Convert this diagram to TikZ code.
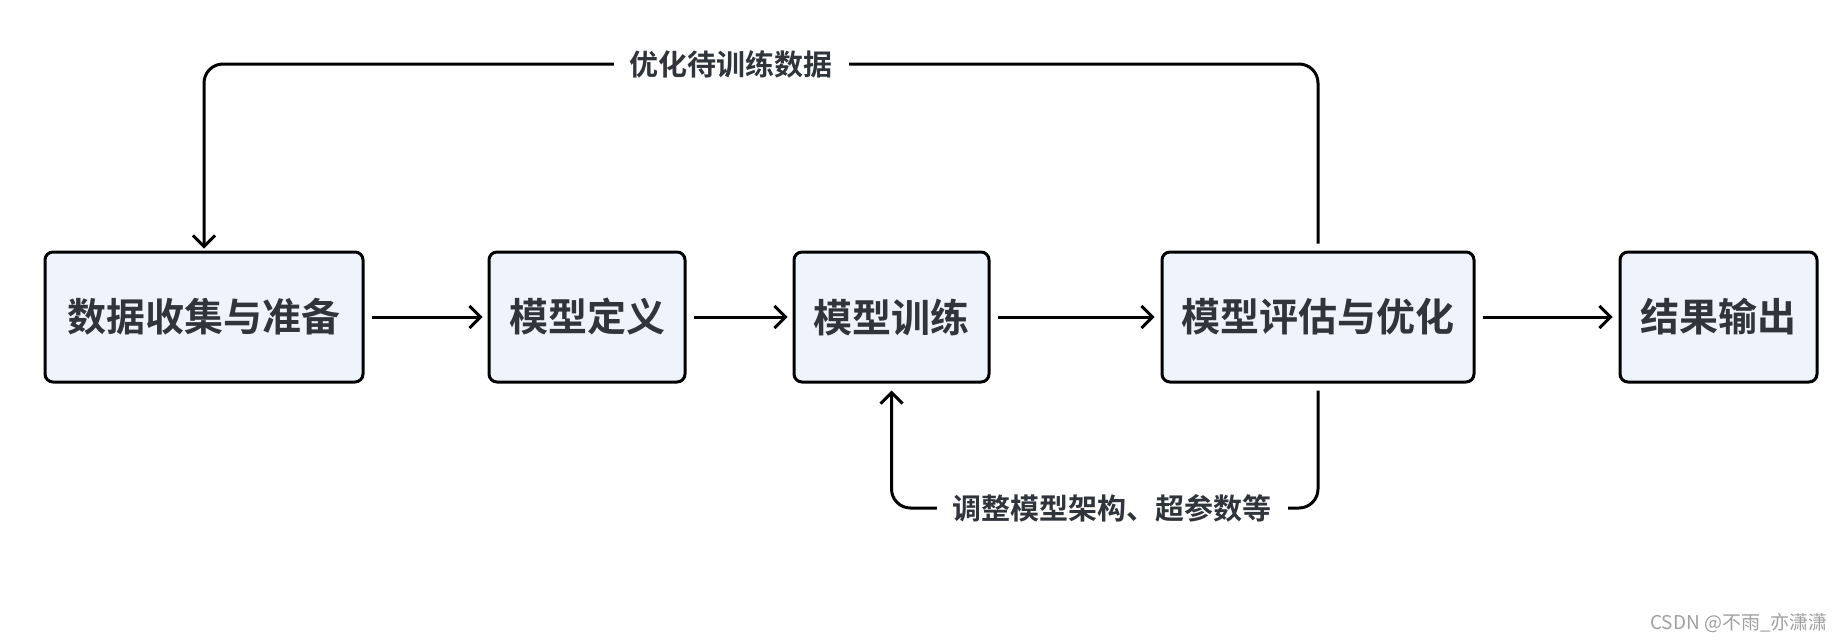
\documentclass[tikz,border=0pt]{standalone}
\usepackage{fontspec}
\setmainfont{Noto Sans CJK SC}[BoldFont={Noto Sans CJK SC Bold}]
\usetikzlibrary{arrows.meta}
\definecolor{boxfill}{HTML}{EEF3FC}
\definecolor{txt}{HTML}{30343B}
\definecolor{wmc}{HTML}{A0A0A0}
\begin{document}
\begin{tikzpicture}[x=1pt,y=-1pt,
  box/.style={draw=black, line width=3pt, fill=boxfill, rounded corners=8pt, text=txt,
    font=\fontsize{39}{39}\selectfont\bfseries, inner sep=0pt, minimum height=130pt},
  conn/.style={line width=3pt, -{Straight Barb[length=11pt,width=22pt]}, rounded corners=19pt},
  lbl/.style={fill=white, text=txt, font=\fontsize{29}{29}\selectfont\bfseries, inner xsep=16pt, inner ysep=4pt}]
\useasboundingbox[fill=white] (0,0) rectangle (1842,640);
\node[box, minimum width=318pt] (b1) at (204,317) {数据收集与准备};
\node[box, minimum width=196pt] (b2) at (587,317) {模型定义};
\node[box, minimum width=195pt] (b3) at (891.5,317) {模型训练};
\node[box, minimum width=312pt] (b4) at (1318,317) {模型评估与优化};
\node[box, minimum width=197pt] (b5) at (1718.5,317) {结果输出};
\coordinate (top) at (0,64);
\coordinate (bot) at (0,508);
\draw[conn, shorten <=7pt, shorten >=5pt] (b1.east) -- (b2.west);
\draw[conn, shorten <=7pt, shorten >=5pt] (b2.east) -- (b3.west);
\draw[conn, shorten <=7pt, shorten >=6pt] (b3.east) -- (b4.west);
\draw[conn, shorten <=7pt, shorten >=6pt] (b4.east) -- (b5.west);
\draw[conn, shorten >=2pt] ([yshift=7pt]b4.north) -- (b4.north |- top) -- (b1.north |- top) -- (b1.north);
\draw[conn, shorten >=7pt] ([yshift=-7pt]b4.south) -- (b4.south |- bot) -- (b3.south |- bot) -- (b3.south);
\node[lbl] (l1) at (731,64) {优化待训练数据};
\node[lbl] (l2) at (1112,508) {调整模型架构、超参数等};
\node[anchor=east, text=wmc, font=\fontsize{19}{19}\selectfont, inner sep=0pt] (wm) at (1828,623) {CSDN @不雨\_亦潇潇};
\end{tikzpicture}
\end{document}
